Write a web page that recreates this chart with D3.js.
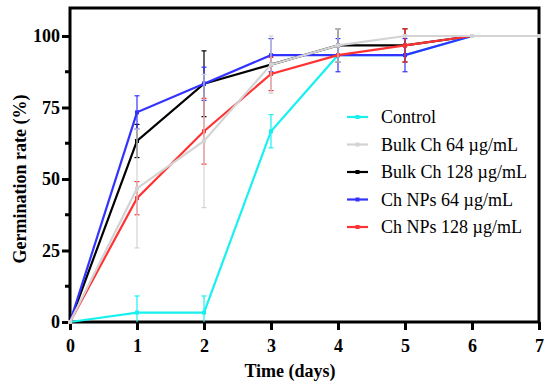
<!DOCTYPE html>
<html>
<head>
<meta charset="utf-8">
<script src="https://cdn.jsdelivr.net/npm/d3@7"></script>
<style>
  body { margin: 0; background: #fff; }
  svg text { font-family: "Liberation Serif", "Times New Roman", serif; }
</style>
</head>
<body>
<svg id="chart" width="550" height="390"></svg>
<script>
// days on the x axis
let days = [0, 1, 2, 3, 4, 5, 6, 7];

// germination rate (%) per series
let control   = [0, 3.3, 3.3, 66.7, 93.3, 93.3, 100, 100];
let bulk64    = [0, 46.7, 63.3, 90, 96.7, 100, 100, 100];
let bulk128   = [0, 63.3, 83.3, 90, 96.7, 96.7, 100, 100];
let nps64     = [0, 73.3, 83.3, 93.3, 93.3, 93.3, 100, 100];
let nps128    = [0, 43.3, 66.7, 86.7, 93.3, 96.7, 100, 100];

// standard deviations
let controlErr = [0, 5.8, 5.8, 5.8, 0, 0, 0, 0];
let bulk64Err  = [0, 20.8, 23.3, 10, 5.8, 0, 0, 0];
let bulk128Err = [0, 5.8, 11.5, 0, 5.8, 5.8, 0, 0];
let nps64Err   = [0, 5.8, 5.8, 5.8, 5.8, 5.8, 0, 0];
let nps128Err  = [0, 5.8, 11.5, 5.8, 0, 5.8, 0, 0];

let yTicks = [0, 25, 50, 75, 100];
let yMinor = [12.5, 37.5, 62.5, 87.5];

let series = [
    {name: "Control",            vals: control, err: controlErr, color: "#19f0f0"},
    {name: "Bulk Ch 64 \u00b5g/mL",  vals: bulk64,  err: bulk64Err,  color: "#d3d3d3"},
    {name: "Bulk Ch 128 \u00b5g/mL", vals: bulk128, err: bulk128Err, color: "#000000"},
    {name: "Ch NPs 64 \u00b5g/mL",   vals: nps64,   err: nps64Err,   color: "#3333ff"},
    {name: "Ch NPs 128 \u00b5g/mL",  vals: nps128,  err: nps128Err,  color: "#ff3333"}
];
// draw order, grey ends up on top at the 100% plateau
let drawOrder = [0, 2, 3, 4, 1];

let serifFont = "'Liberation Serif', 'Times New Roman', Times, serif";

let chart = d3.select("#chart");
let pLeft = 70, pTop = 8, pRight = 539, pBottom = 322;

let x = d3.scaleLinear().domain([0, 7]).range([pLeft, pRight]);
let y = d3.scaleLinear().domain([0, 100]).range([pBottom, 36]);

// frame
chart.append("rect")
    .attr("x", pLeft).attr("y", pTop)
    .attr("width", pRight - pLeft).attr("height", pBottom - pTop)
    .attr("fill", "none").attr("stroke", "#000").attr("stroke-width", 3);

// x axis
let xAxis = chart.append("g")
    .attr("transform", "translate(0," + pBottom + ")")
    .call(d3.axisBottom(x).tickValues(days).tickSize(8).tickPadding(9).tickFormat(d3.format("d")));
xAxis.attr("font-family", null);
xAxis.select(".domain").remove();
xAxis.selectAll("line").attr("stroke-width", 3);
xAxis.selectAll("text")
    .style("font-family", serifFont).style("font-size", "18px").style("font-weight", "700")
    .attr("fill", "#000");

// y axis
let yAxis = chart.append("g")
    .attr("transform", "translate(" + pLeft + ",0)")
    .call(d3.axisLeft(y).tickValues(yTicks).tickSize(8).tickPadding(2));
yAxis.attr("font-family", null);
yAxis.select(".domain").remove();
yAxis.selectAll("line").attr("stroke-width", 3);
yAxis.selectAll("text")
    .style("font-family", serifFont).style("font-size", "18px").style("font-weight", "700")
    .attr("fill", "#000");

chart.append("g").selectAll("line")
    .data(yMinor)
    .enter()
    .append("line")
        .attr("x1", pLeft - 5).attr("x2", pLeft)
        .attr("y1", d => y(d)).attr("y2", d => y(d))
        .attr("stroke", "#000").attr("stroke-width", 3);

// axis titles
chart.append("text")
    .attr("x", 290).attr("y", 377)
    .attr("text-anchor", "middle")
    .style("font-family", serifFont).style("font-size", "18px").style("font-weight", "700")
    .text("Time (days)");

chart.append("text")
    .attr("transform", "rotate(-90)")
    .attr("x", -179).attr("y", 26)
    .attr("text-anchor", "middle")
    .style("font-family", serifFont).style("font-size", "18px").style("font-weight", "700")
    .text("Germination rate (%)");

let line = d3.line()
    .x((d, i) => x(days[i]))
    .y(d => y(d));

drawOrder.forEach(function(k) {
    let s = series[k];
    let g = chart.append("g");

    // error bars
    let eb = days.map((d, i) => ({d: d, v: s.vals[i], e: s.err[i]})).filter(p => p.e > 0);
    g.selectAll(".eb")
        .data(eb)
        .enter()
        .append("line")
            .attr("x1", p => x(p.d)).attr("x2", p => x(p.d))
            .attr("y1", p => y(Math.max(0, p.v - p.e))).attr("y2", p => y(p.v + p.e))
            .attr("stroke", s.color).attr("stroke-width", 1.2);
    g.selectAll(".capTop")
        .data(eb)
        .enter()
        .append("line")
            .attr("x1", p => x(p.d) - 2.5).attr("x2", p => x(p.d) + 2.5)
            .attr("y1", p => y(p.v + p.e)).attr("y2", p => y(p.v + p.e))
            .attr("stroke", s.color).attr("stroke-width", 1.2);
    g.selectAll(".capBot")
        .data(eb.filter(p => p.v - p.e > 0))
        .enter()
        .append("line")
            .attr("x1", p => x(p.d) - 2.5).attr("x2", p => x(p.d) + 2.5)
            .attr("y1", p => y(p.v - p.e)).attr("y2", p => y(p.v - p.e))
            .attr("stroke", s.color).attr("stroke-width", 1.2);

    g.append("path")
        .datum(s.vals)
        .attr("d", line)
        .attr("fill", "none")
        .attr("stroke", s.color)
        .attr("stroke-width", 2.2);

    g.selectAll(".pt")
        .data(s.vals)
        .enter()
        .append("rect")
            .attr("x", (d, i) => x(days[i]) - 2)
            .attr("y", d => y(d) - 2)
            .attr("width", 4).attr("height", 4)
            .attr("fill", s.color);
});

// legend
let lg = chart.append("g");
series.forEach(function(s, i) {
    let ly = 117 + i * 27.5;
    lg.append("line")
        .attr("x1", 347).attr("x2", 368).attr("y1", ly).attr("y2", ly)
        .attr("stroke", s.color).attr("stroke-width", 2.2);
    lg.append("rect")
        .attr("x", 355.5).attr("y", ly - 2).attr("width", 4).attr("height", 4)
        .attr("fill", s.color);
    lg.append("text")
        .attr("x", 381).attr("y", ly + 6)
        .style("font-family", serifFont).style("font-size", "18px")
        .text(s.name);
});
</script>
</body>
</html>
